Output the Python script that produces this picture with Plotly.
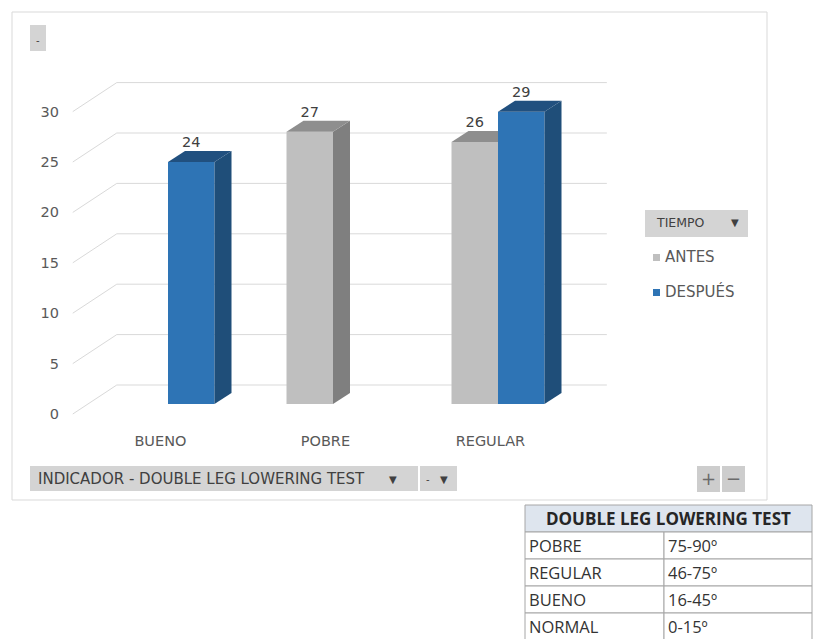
import plotly.graph_objects as go

# ---------------- data ----------------
CATEGORIES = ["BUENO", "POBRE", "REGULAR"]
ANTES = [None, 27, 26]
DESPUES = [24, None, 29]
SERIES_NAMES = ["ANTES", "DESPUÉS"]
Y_TICKS = [0, 5, 10, 15, 20, 25, 30]
TABLE_TITLE = "DOUBLE LEG LOWERING TEST"
TABLE_LEVELS = ["POBRE", "REGULAR", "BUENO", "NORMAL"]
TABLE_RANGES = ["75-90º", "46-75º", "16-45º", "0-15º"]
FIELD_X = "INDICADOR - DOUBLE LEG LOWERING TEST"
FIELD_LEGEND = "TIEMPO"

# ---------------- styling / geometry ----------------
W, H = 813, 639
FONT = "DejaVu Sans"
BLUE, BLUE_SIDE, BLUE_TOP = "#2E74B5", "#1F4E79", "#21507F"
GREY, GREY_SIDE, GREY_TOP = "#BFBFBF", "#7F7F7F", "#8E8E8E"
GRID = "#D9D9D9"
TXT = "#595959"

# pixel frame of the plotting area
PL, PR, PT, PB = 60, 625, 60, 425
X0PX, XS = 168.0, 165.0   # x=0 at 168px, 165 px per category
Y0PX, YS = 404.0, 10.08   # y=0 at 404px, px per unit
xr = [(PL - X0PX) / XS, (PR - X0PX) / XS]
yr = [(Y0PX - PB) / YS, (Y0PX - PT) / YS]

# oblique 3D offsets (data units)
DX, DY = 17 / XS, 11 / YS          # bar depth
BX, BY = 28.8 / XS, 19 / YS        # back wall
FX, FY = -15.2 / XS, -10 / YS      # front floor edge
XL, XR = -0.485, 2.485             # wall extent (bar front plane)
WBAR = 46.5 / XS
OFFSETS = [-WBAR, 0.0]


def px(x):
    return x / W


def py(y):
    return 1 - y / H


fig = go.Figure()

series = [ANTES, DESPUES]
colors = [(GREY, GREY_SIDE, GREY_TOP), (BLUE, BLUE_SIDE, BLUE_TOP)]

# front faces
for s, (vals, name) in enumerate(zip(series, SERIES_NAMES)):
    fig.add_trace(go.Bar(
        x=list(range(len(CATEGORIES))), y=vals, name=name,
        width=WBAR, offset=OFFSETS[s],
        marker=dict(color=colors[s][0], line=dict(width=0)),
        showlegend=False, hoverinfo="skip",
    ))

# side and top faces (3D look), data labels
lab_x, lab_y, lab_t = [], [], []
for i in range(len(CATEGORIES)):
    for s, vals in enumerate(series):
        v = vals[i]
        if v is None:
            continue
        x0 = i + OFFSETS[s]
        x1 = x0 + WBAR
        occluded = False
        if s + 1 < len(series):
            nv = series[s + 1][i]
            if nv is not None and nv >= v:
                occluded = True
        if not occluded:
            fig.add_trace(go.Scatter(
                x=[x1, x1 + DX, x1 + DX, x1, x1], y=[0, DY, v + DY, v, 0],
                fill="toself", fillcolor=colors[s][1], mode="lines",
                line=dict(width=0), showlegend=False, hoverinfo="skip"))
            tx = [x0, x0 + DX, x1 + DX, x1, x0]
        else:
            tx = [x0, x0 + DX, x1, x1, x0]
        fig.add_trace(go.Scatter(
            x=tx, y=[v, v + DY, v + DY, v, v],
            fill="toself", fillcolor=colors[s][2], mode="lines",
            line=dict(width=0), showlegend=False, hoverinfo="skip"))
        lab_x.append((x0 + x1) / 2)
        lab_y.append(v + DY)
        lab_t.append(str(v))

fig.add_trace(go.Scatter(
    x=lab_x, y=lab_y, text=lab_t, mode="text", textposition="top center",
    textfont=dict(family=FONT, size=14.5, color="#404040"),
    showlegend=False, hoverinfo="skip", cliponaxis=False))

# dummy trace to carry the front-plane value axis
fig.add_trace(go.Scatter(x=[None], y=[None], yaxis="y2", showlegend=False,
                         hoverinfo="skip"))

shapes = []
# wall gridlines
for v in Y_TICKS:
    shapes.append(dict(
        type="path", xref="x", yref="y", layer="below",
        path=f"M {XL + FX},{v + FY} L {XL + BX},{v + BY} L {XR + BX},{v + BY}",
        line=dict(color=GRID, width=1)))

# chart border
shapes.append(dict(type="rect", xref="paper", yref="paper",
                   x0=px(12), x1=px(767), y0=py(500), y1=py(12),
                   line=dict(color="#D9D9D9", width=1), layer="below"))

annotations = []


def button(x0, x1, y0, y1, fill="#D4D4D4"):
    shapes.append(dict(type="rect", xref="paper", yref="paper",
                       x0=px(x0), x1=px(x1), y0=py(y1), y1=py(y0),
                       fillcolor=fill, line=dict(width=0), layer="below"))


def text(x, y, t, size=12, color="#404040", xanchor="left", bold=False, fam=FONT):
    annotations.append(dict(x=px(x), y=py(y), xref="paper", yref="paper",
                            text=f"<b>{t}</b>" if bold else t, showarrow=False,
                            xanchor=xanchor, yanchor="middle",
                            font=dict(family=fam, size=size, color=color)))


# top-left field button
button(30, 46, 25, 51)
text(38, 40, "-", size=10, xanchor="center")

# bottom field buttons
button(30, 418, 466, 491)
text(36, 479, FIELD_X, size=15)
text(393, 479, "▼", size=10, xanchor="center")
button(420, 457, 466, 491)
text(428, 479, "-", size=10, xanchor="center")
text(444, 479, "▼", size=10, xanchor="center")

# zoom buttons
button(697, 720, 466, 492, fill="#CDCDCD")
button(722, 745, 466, 492, fill="#CDCDCD")
text(708.5, 478, "+", size=18, xanchor="center", color="#6B6B6B")
text(733.5, 478, "−", size=18, xanchor="center", color="#6B6B6B")

# legend
button(645, 748, 210, 237)
text(654, 223, FIELD_LEGEND, size=12.5)
text(735, 223, "▼", size=10, xanchor="center")
leg_y = [257, 292]
for s, name in enumerate(SERIES_NAMES):
    shapes.append(dict(type="rect", xref="paper", yref="paper",
                       x0=px(653), x1=px(660), y0=py(leg_y[s] + 4), y1=py(leg_y[s] - 3),
                       fillcolor=colors[s][0], line=dict(width=0)))
    text(663, leg_y[s], name, size=15, color=TXT)

# table
TL, TR, TC = 525, 812, 664
TH0, TH1 = 505, 532
RH = 27
shapes.append(dict(type="rect", xref="paper", yref="paper",
                   x0=px(TL), x1=px(TR), y0=py(TH1), y1=py(TH0),
                   fillcolor="#DEE5EE", line=dict(color="#A6A6A6", width=1)))
text((TL + TR) / 2, (TH0 + TH1) / 2, TABLE_TITLE, size=17, color="#262626",
     xanchor="center", bold=True, fam="Open Sans")
for r, (lvl, rng) in enumerate(zip(TABLE_LEVELS, TABLE_RANGES)):
    y0 = TH1 + r * RH
    y1 = y0 + RH
    for (a, b) in [(TL, TC), (TC, TR)]:
        shapes.append(dict(type="rect", xref="paper", yref="paper",
                           x0=px(a), x1=px(b), y0=py(y1), y1=py(y0),
                           fillcolor="white", line=dict(color="#A6A6A6", width=1)))
    text(TL + 2, (y0 + y1) / 2, lvl, size=16.5, color="#333333", fam="Open Sans")
    text(TC + 2, (y0 + y1) / 2, rng, size=16.5, color="#333333", fam="Open Sans")

fig.update_layout(
    width=W, height=H,
    margin=dict(l=0, r=0, t=0, b=0),
    paper_bgcolor="white", plot_bgcolor="rgba(0,0,0,0)",
    barmode="overlay",
    showlegend=False,
    xaxis=dict(domain=[PL / W, PR / W], range=xr, showgrid=False, zeroline=False,
               showline=False, ticks="",
               tickvals=[i + FX / 2 for i in range(len(CATEGORIES))],
               ticktext=CATEGORIES, ticklabelstandoff=5,
               tickfont=dict(family=FONT, size=14.5, color=TXT), automargin=False),
    yaxis=dict(domain=[1 - PB / H, 1 - PT / H], range=yr, showgrid=False,
               zeroline=False, showline=False, showticklabels=False, ticks="",
               automargin=False),
    yaxis2=dict(overlaying="y", side="left", anchor="x",
                range=[yr[0] - FY, yr[1] - FY], tickvals=Y_TICKS,
                showgrid=False, zeroline=False, showline=False, ticks="",
                tickfont=dict(family=FONT, size=14.5, color=TXT), automargin=False),
    shapes=shapes, annotations=annotations,
)

fig.write_html("out.html")
